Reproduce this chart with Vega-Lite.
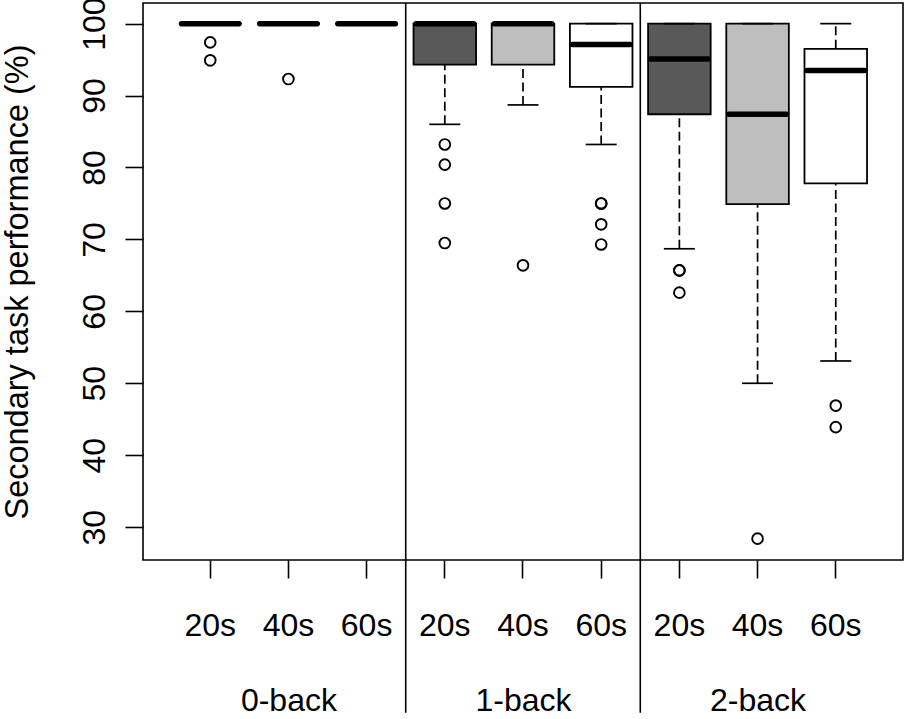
{
  "$schema": "https://vega.github.io/schema/vega-lite/v6.json",
  "width": 760,
  "height": 557,
  "autosize": {"type": "none"},
  "padding": {"left": 143, "top": 3, "right": 2, "bottom": 159},
  "background": "white",
  "config": {
    "view": {"stroke": "black", "strokeWidth": 1.6},
    "axis": {"labelFont": "Liberation Sans", "titleFont": "Liberation Sans", "labelColor": "black", "titleColor": "black", "tickColor": "black", "tickWidth": 1.6, "grid": false, "labelOverlap": false, "labelFlush": false}
  },
  "datasets": {
    "boxes": [
      {"group": "0-back", "dur": "20s", "cond": "0-back 20s", "lo": 100, "q1": 100, "med": 100, "q3": 100, "hi": 100},
      {"group": "0-back", "dur": "40s", "cond": "0-back 40s", "lo": 100, "q1": 100, "med": 100, "q3": 100, "hi": 100},
      {"group": "0-back", "dur": "60s", "cond": "0-back 60s", "lo": 100, "q1": 100, "med": 100, "q3": 100, "hi": 100},
      {"group": "1-back", "dur": "20s", "cond": "1-back 20s", "lo": 86.0, "q1": 94.3, "med": 100, "q3": 100, "hi": 100},
      {"group": "1-back", "dur": "40s", "cond": "1-back 40s", "lo": 88.7, "q1": 94.3, "med": 100, "q3": 100, "hi": 100},
      {"group": "1-back", "dur": "60s", "cond": "1-back 60s", "lo": 83.2, "q1": 91.2, "med": 97.1, "q3": 100, "hi": 100},
      {"group": "2-back", "dur": "20s", "cond": "2-back 20s", "lo": 68.7, "q1": 87.4, "med": 95.1, "q3": 100, "hi": 100},
      {"group": "2-back", "dur": "40s", "cond": "2-back 40s", "lo": 50.0, "q1": 74.9, "med": 87.4, "q3": 100, "hi": 100},
      {"group": "2-back", "dur": "60s", "cond": "2-back 60s", "lo": 53.1, "q1": 77.8, "med": 93.5, "q3": 96.5, "hi": 100}
    ],
    "outliers": [
      {"cond": "0-back 20s", "value": 97.4},
      {"cond": "0-back 20s", "value": 94.9},
      {"cond": "0-back 40s", "value": 92.3},
      {"cond": "1-back 20s", "value": 83.2},
      {"cond": "1-back 20s", "value": 80.4},
      {"cond": "1-back 20s", "value": 75.0},
      {"cond": "1-back 20s", "value": 69.5},
      {"cond": "1-back 40s", "value": 66.4},
      {"cond": "1-back 60s", "value": 75.0},
      {"cond": "1-back 60s", "value": 75.0},
      {"cond": "1-back 60s", "value": 72.1},
      {"cond": "1-back 60s", "value": 69.3},
      {"cond": "2-back 20s", "value": 65.7},
      {"cond": "2-back 20s", "value": 65.7},
      {"cond": "2-back 20s", "value": 62.6},
      {"cond": "2-back 40s", "value": 28.4},
      {"cond": "2-back 60s", "value": 46.9},
      {"cond": "2-back 60s", "value": 43.9}
    ]
  },
  "layer": [
    {
      "layer": [
        {
          "data": {"name": "boxes"},
          "mark": {"type": "bar", "stroke": "black", "strokeWidth": 1.8},
          "encoding": {
            "x": {"field": "cond", "type": "nominal", "title": null, "sort": null,
              "scale": {"type": "band", "domain": ["0-back 20s", "0-back 40s", "0-back 60s", "1-back 20s", "1-back 40s", "1-back 60s", "2-back 20s", "2-back 40s", "2-back 60s"], "paddingInner": 0.2, "paddingOuter": 0.46},
              "axis": {"orient": "bottom", "labelExpr": "slice(datum.label, 7)", "labelAngle": 0, "labelFontSize": 32, "tickSize": 18, "labelPadding": 57, "labelBaseline": "alphabetic", "labelAlign": "center", "domain": false, "title": null}},
            "y": {"field": "q1", "type": "quantitative", "title": "Secondary task performance (%)",
              "scale": {"domain": [25.43, 102.87], "nice": false, "zero": false},
              "axis": {"values": [30, 40, 50, 60, 70, 80, 90, 100], "labelAngle": 270, "labelAlign": "center", "labelBaseline": "alphabetic", "labelFontSize": 32, "tickSize": 18, "labelPadding": 21, "domain": false,
                "titleFontSize": 32.5, "titleFontWeight": "normal", "titleAngle": 270, "titleAlign": "center", "titleBaseline": "alphabetic", "titleX": -116, "titleY": 278.5}},
            "y2": {"field": "q3"},
            "color": {"field": "dur", "type": "nominal", "legend": null,
              "scale": {"domain": ["20s", "40s", "60s"], "range": ["#595959", "#bebebe", "#ffffff"]}}
          }
        },
        {
          "data": {"name": "boxes"},
          "mark": {"type": "rule", "color": "black", "strokeWidth": 1.7, "strokeDash": [9, 4.5]},
          "encoding": {
            "x": {"field": "cond", "type": "nominal", "title": null},
            "y": {"field": "lo", "type": "quantitative", "title": "Secondary task performance (%)"},
            "y2": {"field": "q1"}
          }
        },
        {
          "data": {"name": "boxes"},
          "mark": {"type": "rule", "color": "black", "strokeWidth": 1.7, "strokeDash": [9, 4.5]},
          "encoding": {
            "x": {"field": "cond", "type": "nominal", "title": null},
            "y": {"field": "q3", "type": "quantitative", "title": "Secondary task performance (%)"},
            "y2": {"field": "hi"}
          }
        },
        {
          "data": {"name": "boxes"},
          "mark": {"type": "tick", "orient": "horizontal", "color": "black", "size": 31, "thickness": 1.7, "opacity": 1},
          "encoding": {
            "x": {"field": "cond", "type": "nominal", "title": null},
            "y": {"field": "lo", "type": "quantitative", "title": "Secondary task performance (%)"}
          }
        },
        {
          "data": {"name": "boxes"},
          "mark": {"type": "tick", "orient": "horizontal", "color": "black", "size": 31, "thickness": 1.7, "opacity": 1},
          "encoding": {
            "x": {"field": "cond", "type": "nominal", "title": null},
            "y": {"field": "hi", "type": "quantitative", "title": "Secondary task performance (%)"}
          }
        },
        {
          "data": {"name": "boxes"},
          "mark": {"type": "tick", "orient": "horizontal", "color": "black", "size": 63, "thickness": 5.5, "cornerRadius": 2.5, "opacity": 1},
          "encoding": {
            "x": {"field": "cond", "type": "nominal", "title": null},
            "y": {"field": "med", "type": "quantitative", "title": "Secondary task performance (%)"}
          }
        },
        {
          "data": {"name": "outliers"},
          "mark": {"type": "point", "shape": "circle", "filled": false, "stroke": "black", "strokeWidth": 1.9, "size": 115, "opacity": 1},
          "encoding": {
            "x": {"field": "cond", "type": "nominal", "title": null},
            "y": {"field": "value", "type": "quantitative", "title": "Secondary task performance (%)"}
          }
        }
      ]
    },
    {
      "layer": [
        {
          "data": {"values": [{}]},
          "mark": {"type": "rule", "color": "black", "strokeWidth": 1.6},
          "encoding": {
            "x": {"datum": 3.5, "type": "quantitative",
              "scale": {"domain": [0.14, 9.86], "nice": false, "zero": false},
              "axis": {"orient": "bottom", "values": [2, 5, 8], "labelExpr": "datum.value == 2 ? '0-back' : datum.value == 5 ? '1-back' : '2-back'", "ticks": false, "domain": false, "labelPadding": 150, "labelBaseline": "alphabetic", "labelAlign": "center", "labelFontSize": 32, "title": null}},
            "y": {"datum": 102.87, "type": "quantitative", "title": "Secondary task performance (%)"},
            "y2": {"datum": 4.2}
          }
        },
        {
          "data": {"values": [{}]},
          "mark": {"type": "rule", "color": "black", "strokeWidth": 1.6},
          "encoding": {
            "x": {"datum": 6.5, "type": "quantitative"},
            "y": {"datum": 102.87, "type": "quantitative", "title": "Secondary task performance (%)"},
            "y2": {"datum": 4.2}
          }
        }
      ]
    }
  ],
  "resolve": {"scale": {"x": "independent"}, "axis": {"x": "independent"}}
}
